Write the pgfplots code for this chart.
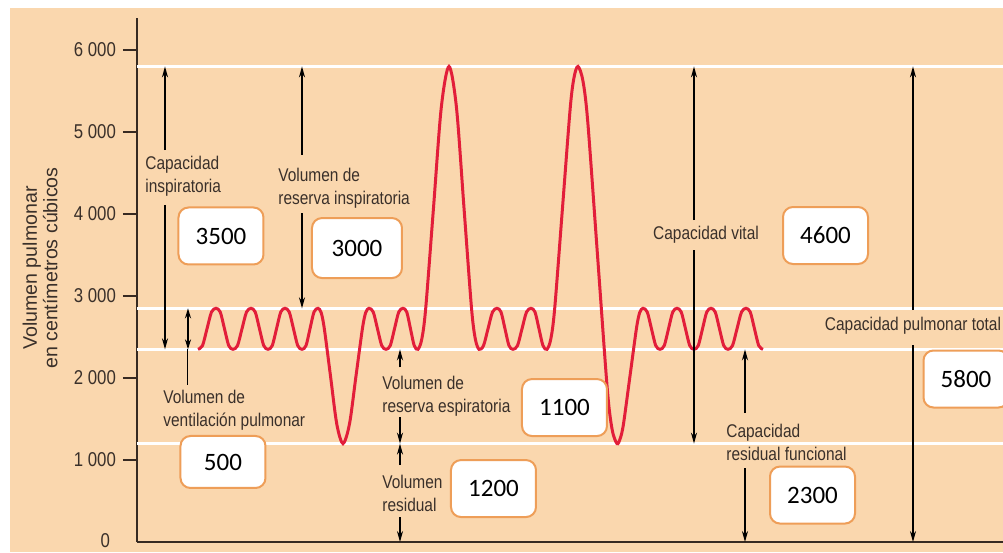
\documentclass[border=0pt]{standalone}
\usepackage{fontspec}
\setmainfont{Liberation Sans}
\newfontfamily\condfont{Liberation Sans}[FakeStretch=0.84]
\newfontfamily\numfont{Carlito}
\usepackage{pgfplots}
\pgfplotsset{compat=1.18}
\usetikzlibrary{arrows.meta,backgrounds}

\definecolor{bg}{RGB}{250,215,174}
\definecolor{boxor}{RGB}{238,158,88}
\definecolor{curve}{RGB}{226,30,58}
\definecolor{txt}{RGB}{58,48,42}
\definecolor{axc}{RGB}{55,42,34}

% spirogram trace: x in pixels of the original figure, y in cm3
\pgfplotstableread{
x y
198 2350
202.5 2395
207 2600
211.5 2805
216 2850
220.25 2805
224.5 2600
228.75 2395
233 2350
237.5 2395
242 2600
246.5 2805
251 2850
255.25 2805
259.5 2600
263.75 2395
268 2350
272.25 2395
276.5 2600
280.75 2805
285 2850
289.25 2805
293.5 2600
297.75 2395
302 2350
306 2395
310 2600
314 2805
318 2850
321.1 2800
324.25 2608
330.5 2025
336.75 1441
343 1200
349.5 1441
356 2025
362.5 2608
365.75 2800
369 2850
373.25 2805
377.5 2600
381.75 2395
386 2350
390.25 2395
394.5 2600
398.75 2805
403 2850
406.75 2805
410.5 2600
414.25 2395
418 2350
421.9 2481
425.75 2855
433.5 4075
441.25 5295
449 5800
456.5 5295
464 4075
471.5 2855
475.25 2481
479 2350
483.5 2395
488 2600
492.5 2805
497 2850
501 2805
505 2600
509 2395
513 2350
517.5 2395
522 2600
526.5 2805
531 2850
535 2805
539 2600
543 2395
547 2350
550.9 2481
554.75 2855
562.5 4075
570.25 5295
574.1 5669
578 5800
582.9 5625
587.75 5127
597.5 3500
607.25 1873
612.1 1375
617 1200
620.25 1263
623.5 1441
630 2025
636.5 2608
639.75 2800
643 2850
647.25 2805
651.5 2600
655.75 2395
660 2350
664.25 2395
668.5 2600
672.75 2805
677 2850
681.25 2805
685.5 2600
689.75 2395
694 2350
698.25 2395
702.5 2600
706.75 2805
711 2850
715.25 2805
719.5 2600
723.75 2395
728 2350
732.5 2395
737 2600
741.5 2805
746 2850
750.25 2805
754.5 2600
758.75 2395
763 2350
}\spiro

\begin{document}
\begin{tikzpicture}[
  lbl/.style={font=\condfont\fontsize{9.2}{11.5}\selectfont, text=txt, inner sep=0pt, align=left},
  val/.style={draw=boxor, fill=white, line width=1pt, rounded corners=5pt,
    minimum width=42.5pt, minimum height=28.5pt, inner sep=0pt,
    font=\numfont\fontsize{12.5}{14}\selectfont},
  arr/.style={line width=0.8pt, black, -{Stealth[length=5.5pt,width=3pt]}},
  seg/.style={line width=0.8pt, black},
]
\begin{axis}[
  scale only axis, width=433pt, height=262pt,
  xmin=137, xmax=1003, ymin=0, ymax=6390,
  axis lines*=left,
  axis line style={line width=0.8pt, draw=axc},
  xtick=\empty,
  ytick={1000,2000,3000,4000,5000,6000},
  yticklabels={1~000,2~000,3~000,4~000,5~000,6~000},
  tick align=outside, major tick length=7pt,
  tick style={line width=0.8pt, draw=axc},
  yticklabel style={font=\condfont\fontsize{10}{11}\selectfont, text=txt},
  clip=false,
]
\coordinate (P0) at (axis cs:0,6610);
\coordinate (P1) at (axis cs:1003,-122);
\coordinate (B0) at (axis cs:10,6512);

% reference levels
\addplot[white, line width=1.6pt] coordinates {(137,5800) (1003,5800)};
\addplot[white, line width=1.6pt] coordinates {(137,2850) (1003,2850)};
\addplot[white, line width=1.6pt] coordinates {(137,2350) (1003,2350)};
\addplot[white, line width=1.6pt] coordinates {(137,1200) (1003,1200)};

\addplot[curve, line width=1.5pt, smooth] table {\spiro};

\node[anchor=east, font=\condfont\fontsize{10}{11}\selectfont, text=txt] at (axis cs:117,15) {0};
\node[rotate=90, align=center, font=\fontsize{9.8}{8.2}\selectfont, text=txt] at (axis cs:40,3341)
  {Volumen pulmonar\\en centímetros cúbicos};

% capacidad inspiratoria
\draw[arr] (axis cs:165,4780) -- (axis cs:165,5800);
\draw[arr] (axis cs:165,4110) -- (axis cs:165,2350);
\node[lbl, anchor=west] at (axis cs:145,4463) {Capacidad\\inspiratoria};
% volumen corriente
\draw[line width=0.8pt, black, {Stealth[length=5pt,width=3pt]}-{Stealth[length=5pt,width=3pt]}] (axis cs:188,2350) -- (axis cs:188,2850);
\draw[seg, line width=0.5pt] (axis cs:188,2350) -- (axis cs:188,1915);
\node[lbl, anchor=west] at (axis cs:163,1610) {Volumen de\\ventilación pulmonar};
% reserva inspiratoria
\draw[arr] (axis cs:302,4720) -- (axis cs:302,5800);
\draw[arr] (axis cs:302,4012) -- (axis cs:302,2850);
\node[lbl, anchor=west] at (axis cs:278,4317) {Volumen de\\reserva inspiratoria};
% reserva espiratoria
\draw[arr] (axis cs:400,2130) -- (axis cs:400,2350);
\draw[arr] (axis cs:400,1524) -- (axis cs:400,1200);
\node[lbl, anchor=west] at (axis cs:382,1780) {Volumen de\\reserva espiratoria};
% residual
\draw[arr] (axis cs:400,939) -- (axis cs:400,1200);
\draw[arr] (axis cs:400,305) -- (axis cs:400,0);
\node[lbl, anchor=west] at (axis cs:382,598) {Volumen\\residual};
% capacidad vital
\draw[arr] (axis cs:694,3927) -- (axis cs:694,5800);
\draw[arr] (axis cs:694,3561) -- (axis cs:694,1200);
\node[lbl] at (axis cs:706,3744) {Capacidad vital};
% capacidad residual funcional
\draw[arr] (axis cs:745,1573) -- (axis cs:745,2350);
\draw[arr] (axis cs:745,902) -- (axis cs:745,0);
\node[lbl, anchor=west] at (axis cs:726,1220) {Capacidad\\residual funcional};
% capacidad pulmonar total
\draw[arr] (axis cs:913,2829) -- (axis cs:913,5800);
\draw[arr] (axis cs:913,2402) -- (axis cs:913,0);
\node[lbl] at (axis cs:913,2634) {Capacidad pulmonar total};

% value boxes
\node[val] at (axis cs:221,3732) {3500};
\node[val, minimum width=45pt, minimum height=30pt] at (axis cs:357,3585) {3000};
\node[val] at (axis cs:825.5,3738) {4600};
\node[val] at (axis cs:966,1988) {5800};
\node[val, minimum height=26pt] at (axis cs:223,976) {500};
\node[val] at (axis cs:564.5,1640) {1100};
\node[val] at (axis cs:493.5,652) {1200};
\node[val] at (axis cs:812.5,573) {2300};
\end{axis}
\begin{scope}[on background layer]
\fill[white] (P0) rectangle (P1);
\fill[bg] (B0) rectangle (P1);
\end{scope}
\pgfresetboundingbox
\useasboundingbox (P0) rectangle (P1);
\end{tikzpicture}
\end{document}
